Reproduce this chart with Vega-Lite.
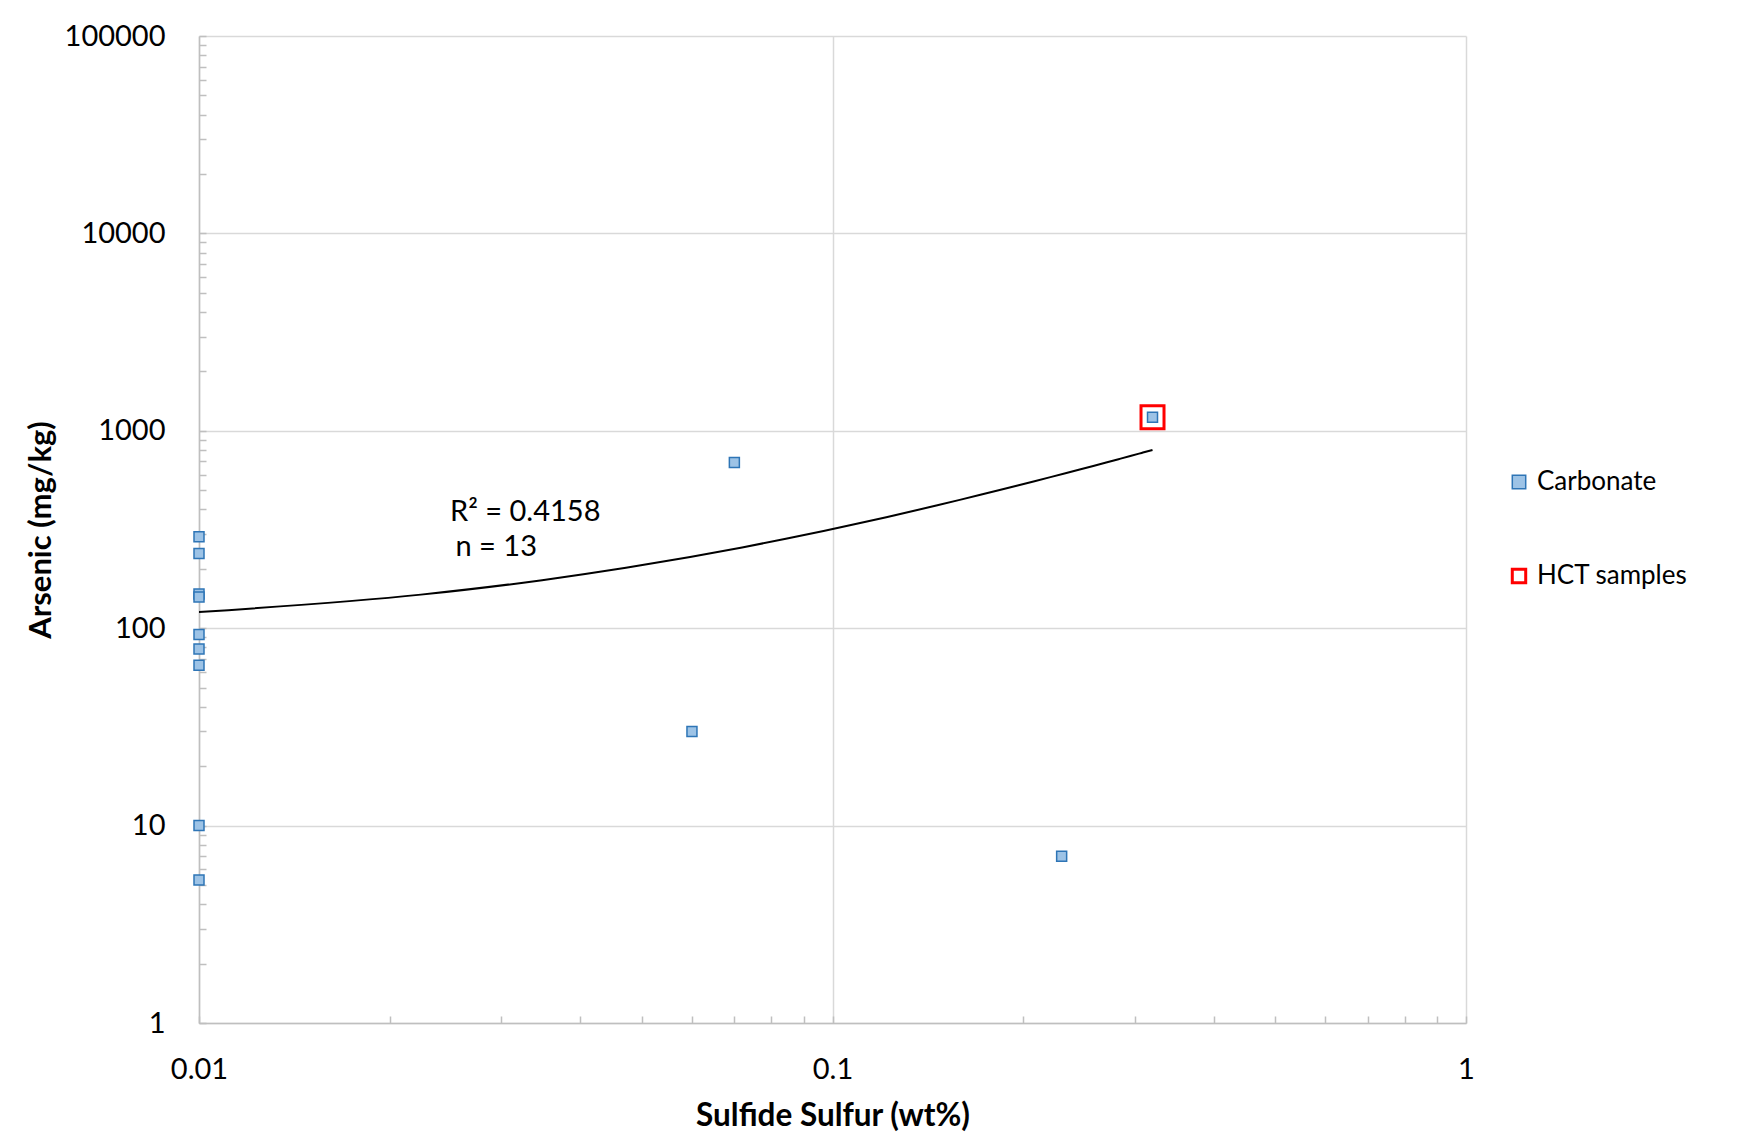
{
  "$schema": "https://vega.github.io/schema/vega-lite/v6.json",
  "width": 1267,
  "height": 987,
  "autosize": {"type": "none"},
  "padding": {"left": 199, "top": 36, "right": 286, "bottom": 118},
  "background": "white",
  "config": {
    "view": {"stroke": null},
    "font": "Lato",
    "axis": {
      "domainColor": "#bfbfbf",
      "domainWidth": 1.5,
      "gridColor": "#d9d9d9",
      "gridWidth": 1.5,
      "tickColor": "#bfbfbf",
      "tickWidth": 1.5,
      "tickSize": -7,
      "labelFont": "Lato",
      "labelFontSize": 29,
      "labelColor": "black",
      "labelFlush": false,
      "labelOverlap": false,
      "labelBound": false,
      "titleFont": "Lato",
      "titleFontSize": 31.5,
      "titleFontWeight": "bold",
      "titleColor": "black"
    }
  },
  "datasets": {
    "points": [
      {"S": 0.01, "As": 291, "series": "Carbonate"},
      {"S": 0.01, "As": 239, "series": "Carbonate"},
      {"S": 0.01, "As": 149, "series": "Carbonate"},
      {"S": 0.01, "As": 144, "series": "Carbonate"},
      {"S": 0.01, "As": 93, "series": "Carbonate"},
      {"S": 0.01, "As": 78.5, "series": "Carbonate"},
      {"S": 0.01, "As": 65, "series": "Carbonate"},
      {"S": 0.01, "As": 10, "series": "Carbonate"},
      {"S": 0.01, "As": 5.3, "series": "Carbonate"},
      {"S": 0.07, "As": 690, "series": "Carbonate"},
      {"S": 0.06, "As": 30, "series": "Carbonate"},
      {"S": 0.23, "As": 7, "series": "Carbonate"},
      {"S": 0.32, "As": 1170, "series": "Carbonate"},
      {"S": 0.32, "As": 1170, "series": "HCT samples"}
    ],
    "note": [
      {"S": 0.0249, "As": 350, "label": "R² = 0.4158"},
      {"S": 0.0254, "As": 232, "label": "n = 13"}
    ]
  },
  "encoding": {
    "x": {
      "field": "S",
      "type": "quantitative",
      "scale": {"type": "log", "domain": [0.01, 1], "nice": false},
      "axis": {
        "title": "Sulfide Sulfur (wt%)",
        "values": [0.01, 0.02, 0.03, 0.04, 0.05, 0.06, 0.07, 0.08, 0.09, 0.1, 0.2, 0.3, 0.4, 0.5, 0.6, 0.7, 0.8, 0.9, 1],
        "format": "~g",
        "labelExpr": "indexof([0.01, 0.1, 1], datum.value) >= 0 ? datum.label : ''",
        "gridOpacity": {"condition": {"test": "indexof([0.01, 0.1, 1], datum.value) >= 0", "value": 1}, "value": 0},
        "labelPadding": 39,
        "titlePadding": 16
      }
    },
    "y": {
      "field": "As",
      "type": "quantitative",
      "scale": {"type": "log", "domain": [1, 100000], "nice": false},
      "axis": {
        "title": "Arsenic (mg/kg)",
        "titleFontSize": 31,
        "values": [1, 2, 3, 4, 5, 6, 7, 8, 9, 10, 20, 30, 40, 50, 60, 70, 80, 90, 100, 200, 300, 400, 500, 600, 700, 800, 900, 1000, 2000, 3000, 4000, 5000, 6000, 7000, 8000, 9000, 10000, 20000, 30000, 40000, 50000, 60000, 70000, 80000, 90000, 100000],
        "format": "d",
        "labelExpr": "indexof([1, 10, 100, 1000, 10000, 100000], datum.value) >= 0 ? datum.label : ''",
        "gridOpacity": {"condition": {"test": "indexof([1, 10, 100, 1000, 10000, 100000], datum.value) >= 0", "value": 1}, "value": 0},
        "labelPadding": 41,
        "titlePadding": 7
      }
    }
  },
  "layer": [
    {
      "data": {"name": "points"},
      "transform": [
        {"filter": "datum.series === 'Carbonate'"},
        {"regression": "As", "on": "S", "method": "poly", "order": 1, "extent": [0.01, 0.32]}
      ],
      "mark": {"type": "line", "color": "black", "strokeWidth": 2, "interpolate": "monotone"}
    },
    {
      "data": {"name": "points"},
      "mark": {"type": "point", "shape": "square", "filled": true, "opacity": 1},
      "encoding": {
        "fill": {
          "field": "series",
          "type": "ordinal",
          "scale": {"domain": ["Carbonate", "HCT samples"], "range": ["#9DC3E6", "transparent"]},
          "legend": {
            "title": null,
            "orient": "none",
            "legendX": 1307,
            "legendY": 433,
            "labelFont": "Lato",
            "labelFontSize": 26,
            "labelColor": "black",
            "rowPadding": 68,
            "labelOffset": 5,
            "symbolSize": 180
          }
        },
        "stroke": {
          "field": "series",
          "type": "ordinal",
          "scale": {"domain": ["Carbonate", "HCT samples"], "range": ["#2E75B6", "#FF0000"]}
        },
        "size": {
          "condition": {"test": "datum.series === 'HCT samples'", "value": 529},
          "value": 100
        },
        "strokeWidth": {
          "field": "series",
          "type": "ordinal",
          "scale": {"domain": ["Carbonate", "HCT samples"], "range": [1.5, 3]}
        }
      }
    },
    {
      "data": {"name": "note"},
      "mark": {"type": "text", "align": "left", "baseline": "alphabetic", "fontSize": 29, "font": "Lato", "color": "black"},
      "encoding": {
        "text": {"field": "label", "type": "nominal"}
      }
    }
  ]
}
